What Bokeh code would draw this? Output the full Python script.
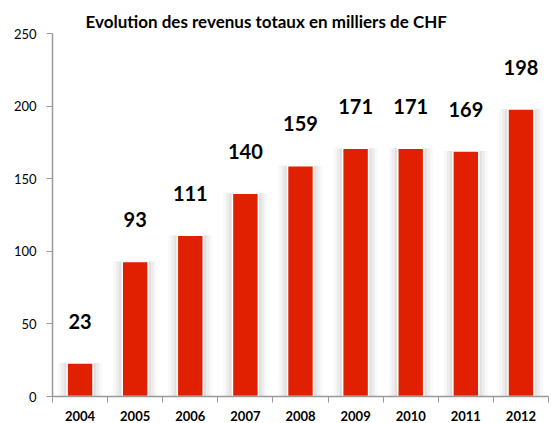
from bokeh.plotting import figure
from bokeh.models import FixedTicker, Range1d, ColumnDataSource
from bokeh.core.properties import value
from bokeh.embed import file_html
from bokeh.resources import INLINE

years = ["2004", "2005", "2006", "2007", "2008", "2009", "2010", "2011", "2012"]
revenus = [23, 93, 111, 140, 159, 171, 171, 169, 198]
y_ticks = [0, 50, 100, 150, 200, 250]

xs = [i + 0.5 for i in range(len(years))]
src = ColumnDataSource(dict(x=xs, top=revenus, lab=[str(v) for v in revenus]))

p = figure(width=551, height=423, output_backend="svg", toolbar_location=None,
           x_range=Range1d(0, len(years)), y_range=Range1d(0, 250),
           min_border_left=52, min_border_right=3, min_border_top=33, min_border_bottom=25)
p.title.text = "Evolution des revenus totaux en milliers de CHF"
p.title.text_font = "Lato"
p.title.text_font_style = "bold"
p.title.text_font_size = "17px"
p.title.text_color = "black"
p.title.align = "left"
p.title.offset = 33
p.title.standoff = 4

p.grid.visible = False
p.outline_line_color = None
p.background_fill_color = "white"

# shadows
for k, a in [(9, 0.06), (6, 0.09), (3, 0.12)]:
    p.vbar(x="x", top="top", bottom=0, width=0.47 + 2 * k / 55, source=src,
           fill_color="#808080", fill_alpha=a, line_color=None)
p.vbar(x="x", top="top", bottom=0, width=0.47, source=src,
       fill_color="#E02000", line_color="white", line_width=1.5)

p.text(x="x", y="top", text="lab", source=src, text_align="center",
       text_baseline="middle", y_offset=-42, text_font=value("Lato"),
       text_font_style="bold", text_font_size="20px", text_color="black")

# axes
p.xaxis.ticker = FixedTicker(ticks=xs, minor_ticks=list(range(len(years) + 1)))
p.xaxis.major_label_overrides = {x: y for x, y in zip(xs, years)}
p.xaxis.major_tick_line_color = None
p.xaxis.minor_tick_out = 6
p.xaxis.minor_tick_in = 0
p.xaxis.minor_tick_line_color = "#999999"
p.xaxis.axis_line_color = "#999999"
p.xaxis.axis_line_width = 1.5
p.xaxis.major_label_text_font = "Lato"
p.xaxis.major_label_text_font_style = "bold"
p.xaxis.major_label_text_font_size = "13px"
p.xaxis.major_label_text_color = "black"
p.xaxis.major_label_standoff = 8

p.yaxis.ticker = FixedTicker(ticks=y_ticks)
p.yaxis.minor_tick_line_color = None
p.yaxis.major_tick_out = 6
p.yaxis.major_tick_in = 0
p.yaxis.major_tick_line_color = "#999999"
p.yaxis.axis_line_color = "#999999"
p.yaxis.axis_line_width = 1.5
p.yaxis.major_label_text_font = "Lato"
p.yaxis.major_label_text_font_size = "13px"
p.yaxis.major_label_text_color = "black"
p.yaxis.major_label_standoff = 10

open("out.html", "w").write(file_html(p, INLINE))
